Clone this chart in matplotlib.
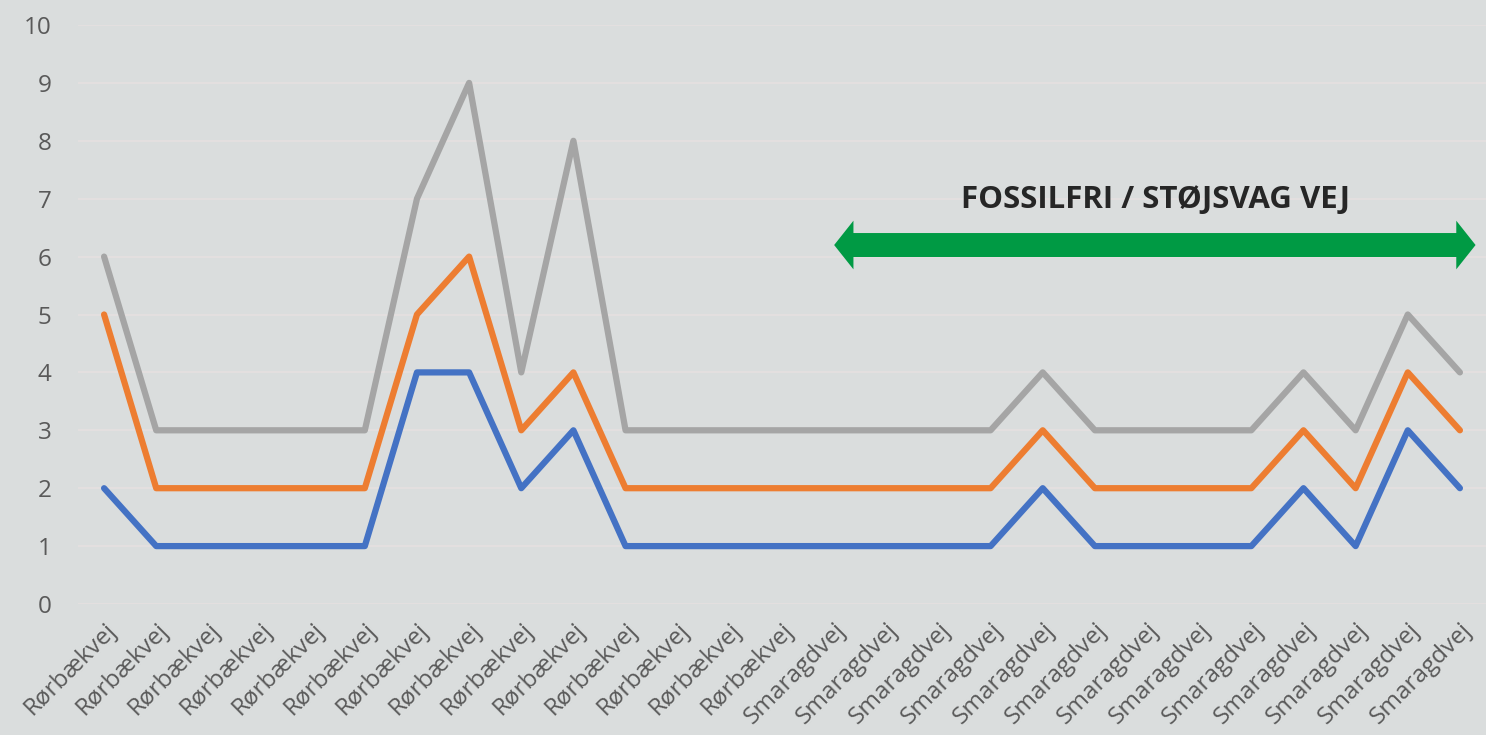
import matplotlib
matplotlib.use("Agg")
import matplotlib.pyplot as plt
from matplotlib.patches import Polygon

categories = ["Rørbækvej"] * 14 + ["Smaragdvej"] * 13
blue = [2, 1, 1, 1, 1, 1, 4, 4, 2, 3, 1, 1, 1, 1, 1, 1, 1, 1, 2, 1, 1, 1, 1, 2, 1, 3, 2]
orange = [5, 2, 2, 2, 2, 2, 5, 6, 3, 4, 2, 2, 2, 2, 2, 2, 2, 2, 3, 2, 2, 2, 2, 3, 2, 4, 3]
gray = [6, 3, 3, 3, 3, 3, 7, 9, 4, 8, 3, 3, 3, 3, 3, 3, 3, 3, 4, 3, 3, 3, 3, 4, 3, 5, 4]
yticks = list(range(0, 11))
banner_text = "FOSSILFRI / STØJSVAG VEJ"

BG = "#dadddd"
plt.rcParams['font.family'] = ['Open Sans', 'DejaVu Sans']

fig = plt.figure(figsize=(14.86, 7.35), dpi=100, facecolor=BG)
ax = fig.add_axes([78 / 1486, 1 - 604 / 735, 1 - 78 / 1486, (604 - 25) / 735])
ax.set_facecolor(BG)

x = list(range(len(categories)))
lw = 4.5
ax.plot(x, gray, color="#a5a5a5", lw=lw, solid_joinstyle="round", solid_capstyle="round", zorder=3)
ax.plot(x, orange, color="#ed7d31", lw=lw, solid_joinstyle="round", solid_capstyle="round", zorder=4)
ax.plot(x, blue, color="#4472c4", lw=lw, solid_joinstyle="round", solid_capstyle="round", zorder=5)

ax.set_xlim(-0.5, len(categories) - 0.5)
ax.set_ylim(0, 10)
ax.set_yticks(yticks)
ax.set_yticklabels([str(v) for v in yticks], fontsize=17.5, color="#595959")
ax.set_xticks(x)
ax.set_xticklabels(categories, fontsize=17.5, color="#595959", rotation=45,
                   ha="right", va="top", rotation_mode="anchor")
ax.tick_params(axis="both", length=0)
ax.tick_params(axis="y", pad=19)
ax.tick_params(axis="x", pad=10)
ax.grid(axis="y", color="#e3dfdf", lw=1.5)
ax.set_axisbelow(True)
for s in ax.spines.values():
    s.set_visible(False)

# double-headed arrow
x0, x1, yc = 14.0, 26.3, 6.2
hl, sh, hh = 0.37, 0.207, 0.42
pts = [(x0, yc), (x0 + hl, yc + hh), (x0 + hl, yc + sh), (x1 - hl, yc + sh), (x1 - hl, yc + hh),
       (x1, yc), (x1 - hl, yc - hh), (x1 - hl, yc - sh), (x0 + hl, yc - sh), (x0 + hl, yc - hh)]
ax.add_patch(Polygon(pts, closed=True, facecolor="#009a44", edgecolor="none", zorder=6, clip_on=False))
ax.text(20.16, 6.98, banner_text, fontsize=22.5, fontweight="bold", color="#262626",
        ha="center", va="center", zorder=7)

fig.savefig("out.png", dpi=100, facecolor=BG)
